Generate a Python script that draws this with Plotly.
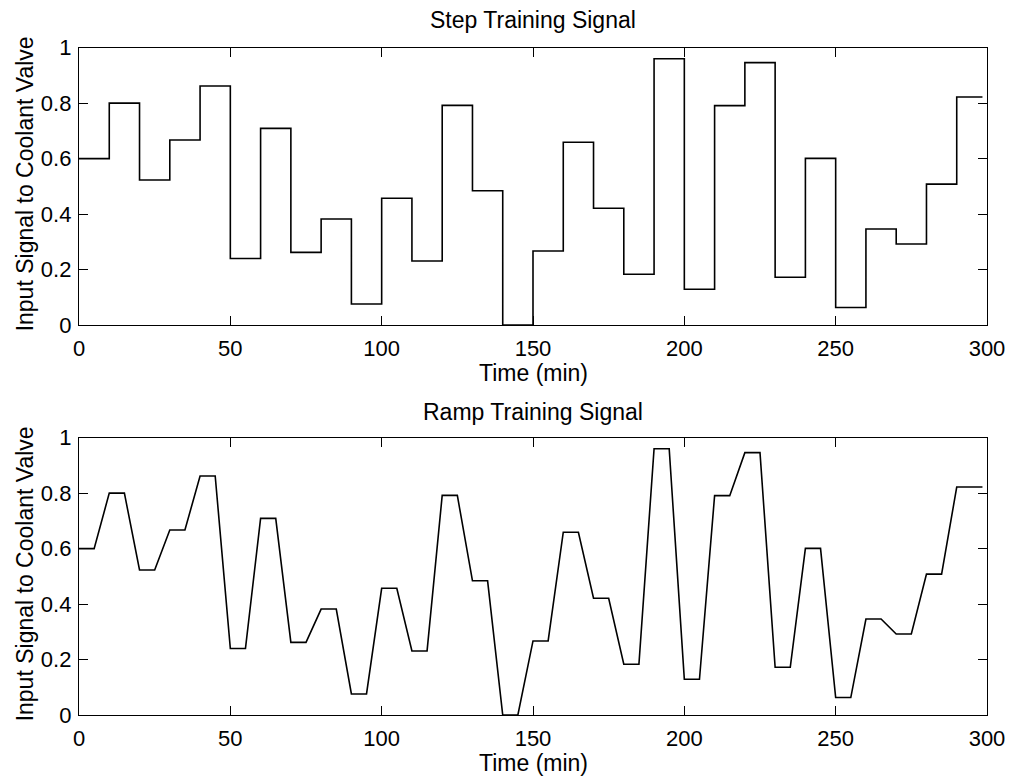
import plotly.graph_objects as go

# Coolant valve input levels, one per 10-minute interval
SEGMENT_START = [0, 10, 20, 30, 40, 50, 60, 70, 80, 90,
                 100, 110, 120, 130, 140, 150, 160, 170, 180, 190,
                 200, 210, 220, 230, 240, 250, 260, 270, 280, 290]
LEVELS = [0.60, 0.80, 0.523, 0.667, 0.862, 0.240, 0.709, 0.262, 0.382, 0.076,
          0.457, 0.231, 0.792, 0.484, 0.000, 0.267, 0.659, 0.421, 0.183, 0.960,
          0.129, 0.791, 0.946, 0.172, 0.601, 0.063, 0.346, 0.292, 0.508, 0.822]
END_TIME = 298.5
HOLD = 5  # minutes each level is held before ramping to the next one

X_TICKS = [0, 50, 100, 150, 200, 250, 300]
Y_TICKS = [0, 0.2, 0.4, 0.6, 0.8, 1]
Y_TICK_TEXT = ["0", "0.2", "0.4", "0.6", "0.8", "1"]

# Step signal: piecewise constant levels
step_x = SEGMENT_START + [END_TIME]
step_y = LEVELS + [LEVELS[-1]]

# Ramp signal: hold each level, then ramp linearly to the next level
ramp_x, ramp_y = [], []
for t, lv in zip(SEGMENT_START, LEVELS):
    ramp_x += [t, t + HOLD]
    ramp_y += [lv, lv]
ramp_x.append(END_TIME)
ramp_y.append(LEVELS[-1])

W, H = 1014, 779
FONT = "Liberation Sans, Arial, sans-serif"
X0, X1 = 79, 987
TOP_PLOT = (47.7, 325.0)
BOT_PLOT = (437.7, 715.0)


def ydom(rng):
    return [1 - rng[1] / H, 1 - rng[0] / H]


fig = go.Figure()
fig.add_trace(go.Scatter(x=step_x, y=step_y, mode="lines", line_shape="hv",
                         line=dict(color="black", width=1.6),
                         xaxis="x", yaxis="y", showlegend=False))
fig.add_trace(go.Scatter(x=ramp_x, y=ramp_y, mode="lines",
                         line=dict(color="black", width=1.6),
                         xaxis="x2", yaxis="y2", showlegend=False))

axis_common = dict(
    showline=True, linecolor="black", linewidth=1.4, mirror="ticks",
    ticks="inside", ticklen=9, tickwidth=1.2, tickcolor="black",
    showgrid=False, zeroline=False, automargin=False,
    tickfont=dict(family=FONT, size=22, color="black"),
)

fig.update_layout(
    width=W, height=H,
    margin=dict(l=0, r=0, t=0, b=0, autoexpand=False),
    paper_bgcolor="white", plot_bgcolor="white",
    xaxis=dict(domain=[X0 / W, X1 / W], anchor="y", range=[0, 300],
               tickvals=X_TICKS, ticklabelstandoff=3, **axis_common),
    yaxis=dict(domain=ydom(TOP_PLOT), anchor="x", range=[0, 1],
               tickvals=Y_TICKS, ticktext=Y_TICK_TEXT, ticklabelstandoff=2,
               **axis_common),
    xaxis2=dict(domain=[X0 / W, X1 / W], anchor="y2", range=[0, 300],
                tickvals=X_TICKS, ticklabelstandoff=3, **axis_common),
    yaxis2=dict(domain=ydom(BOT_PLOT), anchor="x2", range=[0, 1],
                tickvals=Y_TICKS, ticktext=Y_TICK_TEXT, ticklabelstandoff=2,
                **axis_common),
)

cx = ((X0 + X1) / 2) / W
label_font = dict(family=FONT, size=23, color="black")
notes = [
    ("Step Training Signal", cx, 1 - 20 / H, 0),
    ("Ramp Training Signal", cx, 1 - 412 / H, 0),
    ("Time (min)", cx, 1 - 373 / H, 0),
    ("Time (min)", cx, 1 - 763 / H, 0),
    ("Input Signal to Coolant Valve", 25 / W, 1 - ((TOP_PLOT[0] + TOP_PLOT[1]) / 2 - 2) / H, -90),
    ("Input Signal to Coolant Valve", 25 / W, 1 - ((BOT_PLOT[0] + BOT_PLOT[1]) / 2 - 2) / H, -90),
]
for text, x, y, ang in notes:
    fig.add_annotation(text=text, x=x, y=y, xref="paper", yref="paper",
                       xanchor="center", yanchor="middle", showarrow=False,
                       textangle=ang, font=label_font)

fig.write_html("out.html")
